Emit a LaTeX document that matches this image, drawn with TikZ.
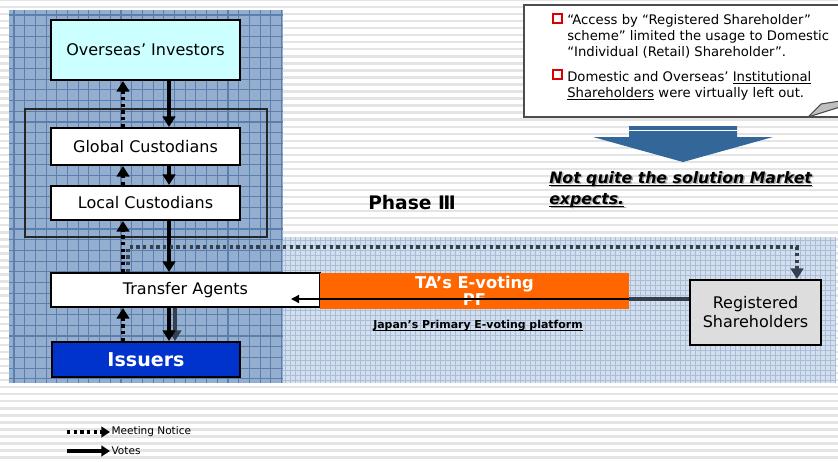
\documentclass[tikz,border=0pt]{standalone}
\usepackage{fontspec}
\setmainfont{DejaVu Sans}
\usetikzlibrary{arrows.meta}

\newlength\undlwd
\newcommand\undl[1]{\settowidth\undlwd{#1}\rlap{\rule[-1.8pt]{\undlwd}{0.7pt}}#1}

\definecolor{stripegray}{RGB}{228,228,228}
\definecolor{darkpanel}{RGB}{148,174,208}
\definecolor{darkgrid}{RGB}{92,126,172}
\definecolor{lightpanel}{RGB}{212,223,237}
\definecolor{lightgrid}{RGB}{170,190,218}
\definecolor{cyanbox}{RGB}{204,255,255}
\definecolor{issblue}{RGB}{0,51,204}
\definecolor{pforange}{RGB}{255,102,0}
\definecolor{regfill}{RGB}{221,221,221}
\definecolor{arrowblue}{RGB}{51,102,153}
\definecolor{linkgray}{RGB}{52,64,78}

\tikzset{
  box/.style={draw=black,line width=1.5pt,inner sep=0pt,font=\fontsize{12}{14}\selectfont},
  vote/.style={line width=2.8pt,-{Triangle[length=8pt,width=9.5pt]}},
  notice/.style={line width=2.8pt,dash pattern=on 2.6pt off 2.4pt,-{Triangle[length=8pt,width=9.5pt]}},
  stripe/.style={stripegray,line width=1.8pt}
}

\begin{document}
\begin{tikzpicture}[x=0.75pt,y=-0.75pt]
\useasboundingbox (0,0) rectangle (838,461);
% background
\fill[white] (0,0) rectangle (838,461);
\foreach \y in {0,7.04,...,461} \draw[stripe] (0,\y) -- (838,\y);
\fill[lightpanel] (283,237) rectangle (835,383);
\foreach \x in {285,290,...,835} \draw[lightgrid,line width=0.6pt] (\x,237) -- (\x,383);
\foreach \y in {240,245,...,383} \draw[lightgrid,line width=0.6pt] (283,\y) -- (835,\y);
\fill[darkpanel] (9,10) rectangle (283,383);
\foreach \x in {14,24.7,...,283} \draw[darkgrid,line width=0.8pt] (\x,10) -- (\x,383);
\foreach \y in {15,25.7,...,383} \draw[darkgrid,line width=0.8pt] (9,\y) -- (283,\y);
\draw[black!85,line width=0.8pt] (25,109) rectangle (267,237);

% nodes
\node[box,fill=cyanbox,minimum width=141.75pt,minimum height=45pt](inv) at (145.5,50){Overseas' Investors};
\node[box,fill=white,minimum width=141.75pt,minimum height=27.75pt](glob) at (145.5,146.5){Global Custodians};
\node[box,fill=white,minimum width=141.75pt,minimum height=25.5pt](loc) at (145.5,203){Local Custodians};
\node[box,fill=white,minimum width=201.75pt,minimum height=25.5pt](ta) at (185.5,290){Transfer Agents};
\node[box,fill=issblue,text=white,minimum width=141pt,minimum height=26.25pt,font=\fontsize{14.3}{16}\selectfont\bfseries](iss) at (146,359.5){Issuers};
\node[fill=pforange,text=white,minimum width=231.75pt,minimum height=27pt,inner sep=0pt,align=center,font=\fontsize{12.2}{12.75}\selectfont\bfseries](pf) at (474.5,291){TA’s E-voting\\PF};
\node[box,fill=regfill,minimum width=98.25pt,minimum height=48.75pt,align=center,font=\fontsize{12}{14.25}\selectfont](reg) at (755.5,312.5){Registered\\Shareholders};
\node[font=\fontsize{8.2}{9}\selectfont\bfseries](jp) at (478,326){\undl{Japan’s Primary E-voting platform}};

% columns for the arrows
\coordinate (vx) at (169,0);
\coordinate (gx) at (175,0);
\coordinate (mx) at (123,0);
\coordinate (nx) at (128,0);
\coordinate (ly) at (0,299);
\coordinate (b1) at (128,247);
\coordinate (b2) at (797,247);
\coordinate (rx) at (797,0);

% votes
\draw[vote] (vx |- inv.south) -- (vx |- glob.north);
\draw[vote] (vx |- glob.south) -- (vx |- loc.north);
\draw[vote] (vx |- loc.south) -- (vx |- ta.north);
\draw[vote,linkgray] (gx |- ta.south) -- (gx |- iss.north);
\draw[vote] (vx |- ta.south) -- (vx |- iss.north);

% meeting notice
\draw[notice] (mx |- iss.north) -- (mx |- ta.south);
\draw[notice] (mx |- ta.north) -- (mx |- loc.south);
\draw[notice] (mx |- loc.north) -- (mx |- glob.south);
\draw[notice] (mx |- glob.north) -- (mx |- inv.south);
\draw[notice,linkgray] (nx |- ta.north) -- (b1) -- (b2) -- (rx |- reg.north);

% e-voting link
\draw[linkgray,line width=3pt] (reg.west |- ly) -- (pf.east |- ly);
\draw[line width=1pt,-{Triangle[length=6pt,width=6pt]}] (pf.east |- ly) -- ([xshift=-22.5pt]ta.east |- ly);

% callout
\draw[fill=white,draw=black!70,line width=0.8pt] (524,5) rectangle (850,117);
\draw[fill=black!25,draw=black!70,line width=0.8pt] (808,117) -- (821,104) -- (840,101) -- (840,107) -- cycle;
\draw[red!85!black,line width=0.8pt] (553,14) rectangle (562,23);
\draw[red!85!black,line width=0.8pt] (553,70) rectangle (562,79);
\node[anchor=north west,align=left,inner sep=0pt,font=\fontsize{9.9}{12.2}\selectfont](c1) at (567,14){“Access by “Registered Shareholder”\\scheme” limited the usage to Domestic\\“Individual (Retail) Shareholder”.};
\node[anchor=north west,align=left,inner sep=0pt,font=\fontsize{9.9}{12.2}\selectfont](c2) at (567,71){Domestic and Overseas' \undl{Institutional}\\\undl{Shareholders} were virtually left out.};

% big arrow
\fill[arrowblue] (629,126) -- (737,126) -- (737,137) -- (773,137) -- (683,162) -- (593,137) -- (629,137) -- cycle;
\draw[white,line width=0.5pt] (629,130) -- (737,130);
\node[anchor=north west,align=left,inner sep=0pt,text=black!35,font=\fontsize{11.8}{15.75}\selectfont\bfseries\itshape] at (550.5,172.5){\undl{Not quite the solution Market}\\\undl{expects.}};
\node[anchor=north west,align=left,inner sep=0pt,font=\fontsize{11.8}{15.75}\selectfont\bfseries\itshape](nq) at (549,171){\undl{Not quite the solution Market}\\\undl{expects.}};

\node[anchor=west,inner sep=0pt,font=\fontsize{14}{16}\selectfont\bfseries](ph) at (368,203){Phase Ⅲ};

% legend
\coordinate (l1) at (67,432);
\coordinate (l2) at (67,451);
\node[anchor=west,inner sep=1pt,font=\fontsize{7.9}{9}\selectfont](mn) at (110,432){Meeting Notice};
\node[anchor=west,inner sep=1pt,font=\fontsize{7.9}{9}\selectfont](vt) at (110,451){Votes};
\draw[notice,line width=2.4pt,-{Triangle[length=6.5pt,width=8pt]}] (l1) -- (mn.west);
\draw[vote,line width=2.4pt,-{Triangle[length=6.5pt,width=8pt]}] (l2) -- (vt.west);
\end{tikzpicture}
\end{document}
